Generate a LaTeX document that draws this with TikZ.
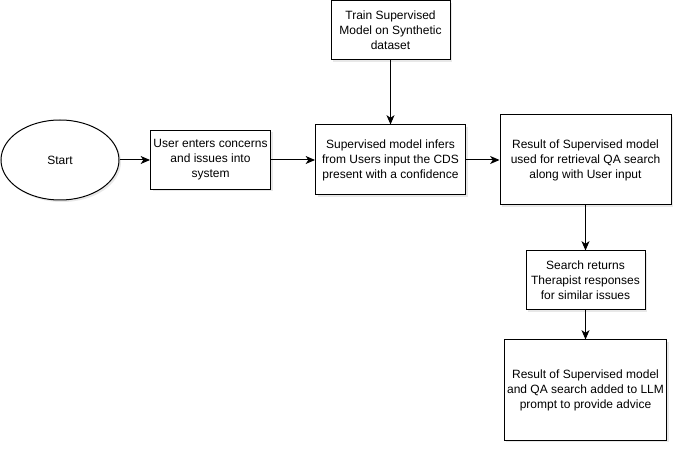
\documentclass[tikz,border=0pt]{standalone}
\usepackage{fontspec}
\setmainfont{Liberation Sans}
\usetikzlibrary{arrows.meta,shadows,shapes.geometric}
\begin{document}
\begin{tikzpicture}[x=0.75pt,y=-0.75pt,
  flowbox/.style={draw=black,fill=white,line width=0.75pt,align=center,
    font=\fontsize{9}{11.2}\selectfont,inner sep=2pt,
    drop shadow={opacity=0.18,shadow xshift=1.5pt,shadow yshift=-1.5pt}},
  flowarrow/.style={draw=black,line width=0.75pt,
    -{Stealth[length=7pt,width=6pt,inset=2pt]}}]
  \useasboundingbox[fill=white] (0,0) rectangle (682,452);

  % start terminal
  \node[flowbox,ellipse,minimum width=118*0.75pt,minimum height=80*0.75pt]
    (start) at (60,160) {Start};

  % process steps
  \node[flowbox,minimum width=120*0.75pt,minimum height=59*0.75pt]
    (enter) at (210.5,160) {User enters concerns\\and issues into\\system};
  \node[flowbox,minimum width=119*0.75pt,minimum height=59*0.75pt]
    (train) at (390.5,30.5) {Train Supervised\\Model on Synthetic\\dataset};
  \node[flowbox,minimum width=150*0.75pt,minimum height=70*0.75pt]
    (infer) at (390.5,160) {Supervised model infers\\from Users input the CDS\\present with a confidence};
  \node[flowbox,minimum width=171*0.75pt,minimum height=90*0.75pt]
    (retrieve) at (585.5,160) {Result of Supervised model\\used for retrieval QA search\\along with User input};
  \node[flowbox,minimum width=119*0.75pt,minimum height=59*0.75pt]
    (search) at (585.5,280.5) {Search returns\\Therapist responses\\for similar issues};
  \node[flowbox,minimum width=160*0.75pt,minimum height=100*0.75pt]
    (advice) at (585.5,390) {Result of Supervised model\\and QA search added to LLM\\prompt to provide advice};

  % connectors
  \draw[flowarrow] (start) -- (enter);
  \draw[flowarrow] (enter) -- (infer);
  \draw[flowarrow] (train) -- (infer);
  \draw[flowarrow] (infer) -- (retrieve);
  \draw[flowarrow] (retrieve) -- (search);
  \draw[flowarrow] (search) -- (advice);
\end{tikzpicture}
\end{document}
